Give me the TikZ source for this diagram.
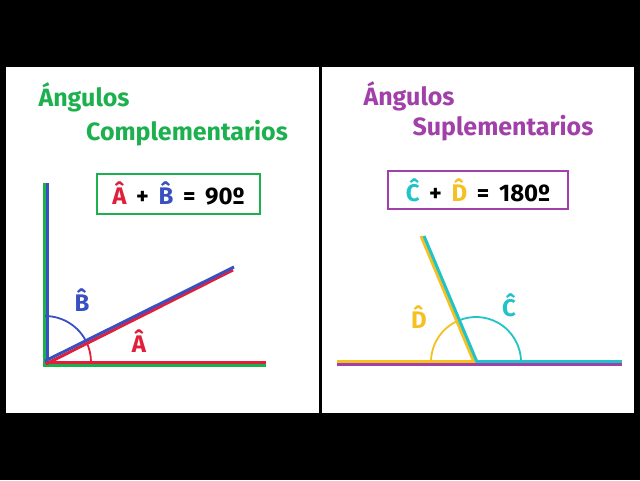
\documentclass[tikz,border=0pt]{standalone}
\usepackage{fontspec}
\setmainfont{Fira Sans}
\definecolor{grn}{HTML}{1DB04F}
\definecolor{rd}{HTML}{E0203A}
\definecolor{bl}{HTML}{3A4FC0}
\definecolor{pur}{HTML}{A040A8}
\definecolor{yel}{HTML}{F5C020}
\definecolor{cy}{HTML}{20C4C8}
\tikzset{ln/.style={line width=3pt},
 ttl/.style={font=\bfseries\fontsize{25}{30}\selectfont},
 lbl/.style={font=\bfseries\fontsize{24}{28}\selectfont},
 eqbox/.style={draw, line width=2pt, font=\bfseries\fontsize{24}{28}\selectfont, inner sep=4pt}}
\begin{document}
\begin{tikzpicture}[x=1pt,y=-1pt]
\fill[black] (0,0) rectangle (640,480);
\useasboundingbox (0,0) rectangle (640,480);
\fill[white] (6,67) rectangle (319,413);
\fill[white] (322,67) rectangle (634,413);
% left
\node[ttl,text=grn] (t1) at (84,97) {Ángulos};
\node[ttl,text=grn] (t2) at (187,133) {Complementarios};
\node[eqbox,draw=grn,minimum width=163pt,minimum height=40pt] (e1) at (178.5,193.5) {\textcolor{rd}{\^A} \,+\, \textcolor{bl}{\^B} \,=\, 90º};
\draw[ln,grn] (44,183) -- (44,365) -- (266,365);
\draw[ln,bl] (47,183) -- (47,362);
\draw[ln,rd] (45,362) -- (266,362);
\draw[ln,rd] (46,364) -- (233,270);
\draw[ln,bl] (45,361) -- (234,267);
\draw[line width=1.8pt,rd] (91,362) arc[start angle=0,end angle=-26.5,radius=46];
\draw[line width=1.8pt,bl] (86.2,341.5) arc[start angle=-26.5,end angle=-90,radius=46];
\node[lbl,text=bl] (lb) at (82,300) {\^B};
\node[lbl,text=rd] (la) at (139,341) {\^A};
% right
\node[ttl,text=pur] (t3) at (409,96) {Ángulos};
\node[ttl,text=pur] (t4) at (503,128) {Suplementarios};
\node[eqbox,draw=pur,minimum width=180pt,minimum height=38pt] (e2) at (478,190) {\textcolor{cy}{\^C} \,+\, \textcolor{yel}{\^D} \,=\, 180º};
\draw[ln,pur] (337,364) -- (622,364);
\draw[ln,yel] (337,361) -- (476,361);
\draw[ln,cy] (476,361) -- (622,361);
\draw[line width=1.8pt,cy] (521,362) arc[start angle=0,end angle=-113,radius=45];
\draw[line width=1.8pt,yel] (431,362) arc[start angle=-180,end angle=-113,radius=45];
\draw[ln,yel] (421,236) -- (474,362);
\draw[ln,cy] (424,236) -- (477,362);
\node[lbl,text=yel] (ld) at (419,317) {\^D};
\node[lbl,text=cy] (lc) at (509,305) {\^C};
\end{tikzpicture}
\end{document}
